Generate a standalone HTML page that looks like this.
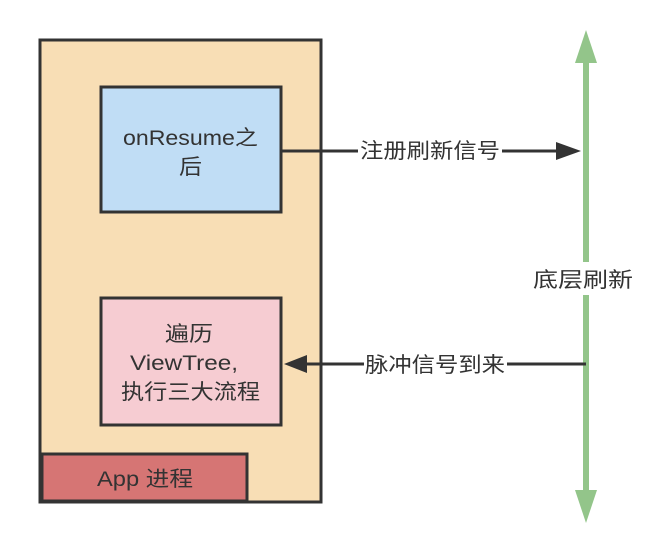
<!DOCTYPE html>
<html><head><meta charset="utf-8"><style>
html,body{margin:0;padding:0;background:#fff;}
svg{display:block;}
text{font-family:"Liberation Sans","Noto Sans CJK SC",sans-serif;font-size:21px;fill:#333;}
</style></head><body>
<svg width="662" height="550" viewBox="0 0 662 550" xmlns="http://www.w3.org/2000/svg">
<rect x="40" y="40" width="281" height="462" fill="#f8deb5" stroke="#333" stroke-width="3"/>
<rect x="101" y="87" width="180" height="125" fill="#c0ddf5" stroke="#333" stroke-width="3"/>
<text x="123" y="145" textLength="135" lengthAdjust="spacingAndGlyphs">onResume之</text>
<text x="179" y="174" textLength="23" lengthAdjust="spacingAndGlyphs">后</text>
<rect x="101" y="298" width="180" height="127" fill="#f6ccd2" stroke="#333" stroke-width="3"/>
<text x="165" y="341" textLength="48" lengthAdjust="spacingAndGlyphs">遍历</text>
<text x="130" y="370" textLength="108" lengthAdjust="spacingAndGlyphs">ViewTree,</text>
<text x="121" y="399" textLength="139" lengthAdjust="spacingAndGlyphs">执行三大流程</text>
<rect x="42" y="454" width="205" height="47" fill="#d67574" stroke="#333" stroke-width="3"/>
<text x="97" y="486" textLength="96" lengthAdjust="spacingAndGlyphs">App 进程</text>
<rect x="583" y="60" width="6" height="202" fill="#93c58a"/>
<rect x="583" y="295" width="6" height="198" fill="#93c58a"/>
<polygon points="586,30 575,63 597,63" fill="#93c58a"/>
<polygon points="586,523 575,490 597,490" fill="#93c58a"/>
<text x="533" y="287" textLength="100" lengthAdjust="spacingAndGlyphs">底层刷新</text>
<line x1="282" y1="151" x2="358" y2="151" stroke="#333" stroke-width="3"/>
<line x1="502" y1="151" x2="560" y2="151" stroke="#333" stroke-width="3"/>
<polygon points="581,151 556,142 556,160" fill="#333"/>
<text x="360" y="158" textLength="140" lengthAdjust="spacingAndGlyphs">注册刷新信号</text>
<line x1="586" y1="364" x2="507" y2="364" stroke="#333" stroke-width="3"/>
<line x1="364" y1="364" x2="305" y2="364" stroke="#333" stroke-width="3"/>
<polygon points="284,364 307,355 307,373" fill="#333"/>
<text x="365" y="372" textLength="140" lengthAdjust="spacingAndGlyphs">脉冲信号到来</text>
</svg>
</body></html>
